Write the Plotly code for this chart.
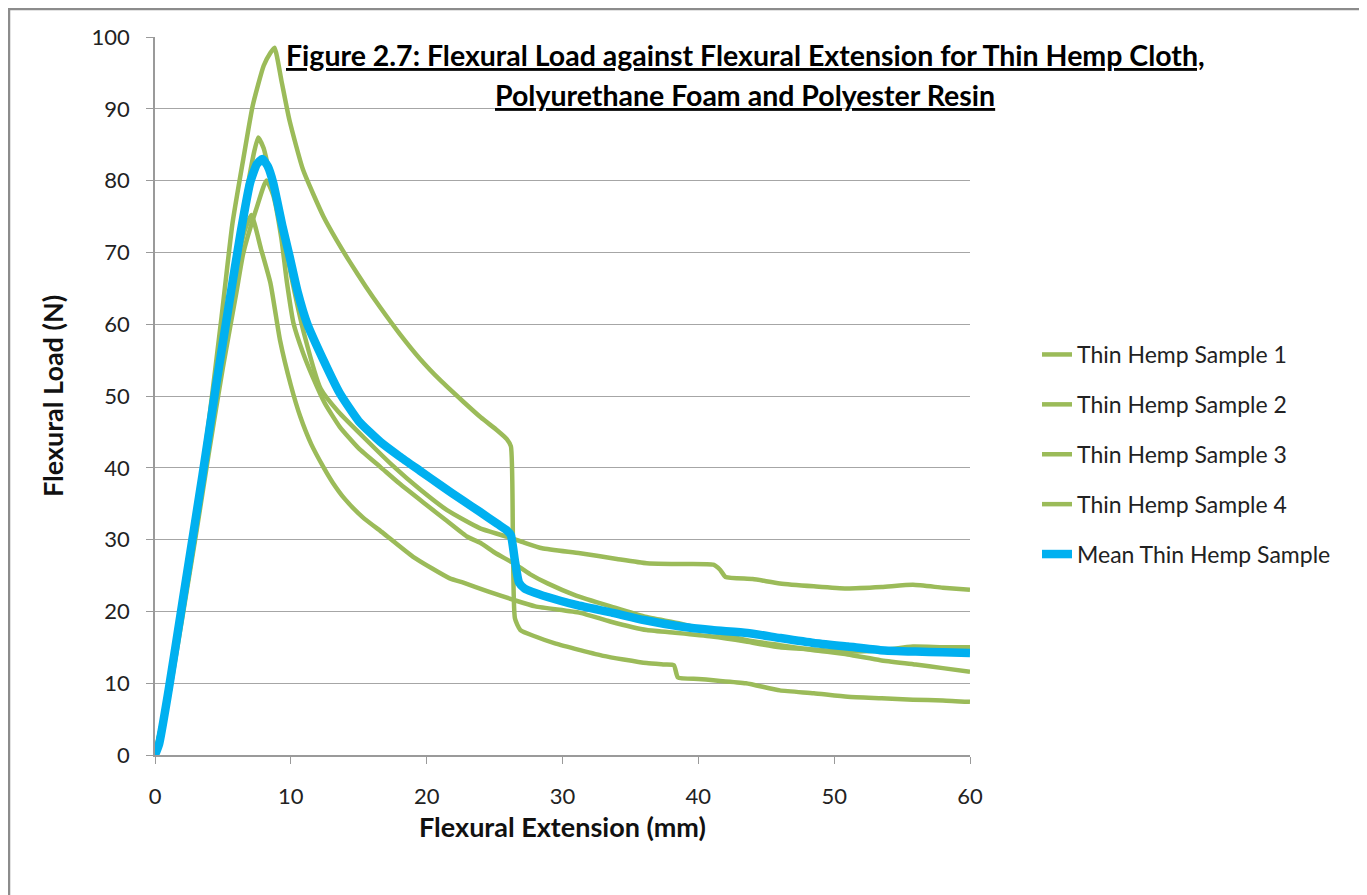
import plotly.graph_objects as go

# ---- data ----
s1_x = [0, 1, 2, 3, 4, 4.9, 5.7, 6.5, 7.2, 8.0, 8.5, 8.8, 9.3, 9.9, 10.9, 12.4, 13.4, 14.4, 15.5,
        16.6, 18, 19.5, 21, 22.7, 24, 25.2, 25.9, 26.2, 26.35, 26.5, 26.9, 28, 29.5, 31.3, 33, 34.5,
        36.2, 37.5, 38.2, 38.5, 40, 41.1, 43.5, 46, 48.5, 51, 53.5, 55.8, 58, 60]
s1_y = [0, 9, 21, 33, 47, 61, 74, 83, 90.5, 96, 97.8, 98.5, 94, 88.4, 81.5, 75, 71.6, 68.5, 65.3,
        62.3, 58.7, 55.2, 52.2, 49.2, 47, 45.2, 44, 43, 30, 19, 17.4, 16.5, 15.5, 14.6, 13.8, 13.3,
        12.8, 12.6, 12.5, 10.8, 10.6, 10.4, 10, 9, 8.6, 8.1, 7.9, 7.7, 7.6, 7.4]

s2_x = [0, 1, 2, 3, 4, 5, 6, 6.8, 7.3, 7.6, 8.0, 8.5, 9.3, 10, 11, 12.2, 13.5, 15.6, 17.5, 19.5,
        21.5, 23.9, 25.9, 27, 28.5, 31.3, 34, 36.2, 38.5, 41.1, 41.6, 42, 44, 46, 48.5, 50.9, 53.5,
        55.8, 58, 60]
s2_y = [0, 8.5, 19.5, 31, 43.5, 56, 70, 79, 84, 86, 84.5, 80.5, 74, 67, 58.5, 51, 47.8, 43.8, 40.3,
        37, 34.1, 31.6, 30.4, 29.7, 28.8, 28.1, 27.3, 26.7, 26.6, 26.5, 25.8, 24.8, 24.5, 23.9, 23.5,
        23.2, 23.4, 23.7, 23.3, 23]

s3_x = [0, 1, 2, 3, 4, 5, 6, 6.5, 7.5, 8.2, 8.7, 9.3, 9.7, 10.2, 10.9, 11.6, 12.5, 13.6, 15, 16.6,
        18, 19.8, 21.5, 23, 24, 25, 26.4, 27.6, 28.9, 31, 33.7, 36, 38.7, 41, 43.6, 46, 48.5, 51,
        53.4, 56, 58, 60]
s3_y = [0, 8, 19, 30.5, 42.5, 54, 64.5, 69.9, 76.3, 80, 78, 72, 66, 60.1, 56, 52.7, 49, 45.7, 42.7,
        40.1, 37.8, 35.1, 32.6, 30.4, 29.5, 28.2, 26.7, 25.2, 23.9, 22.2, 20.6, 19.3, 18.3, 17.2, 16,
        15.3, 14.6, 14, 13.2, 12.6, 12.1, 11.6]

s4_x = [0, 1, 2, 3, 4, 5, 6, 6.6, 7.1, 7.8, 8.5, 9.2, 10.0, 10.7, 11.5, 12.4, 13.1, 14, 15.3, 16.8,
        19, 21.7, 22.7, 24.5, 26.4, 28, 31.3, 33.5, 36.2, 38.5, 41, 43.5, 46, 48.5, 51, 53.5, 55.8,
        58, 60]
s4_y = [0, 9, 20, 32, 45, 57, 68, 73, 75.2, 70.5, 65.7, 57.8, 51.5, 47.1, 43.3, 40.1, 37.9, 35.6,
        33.1, 30.9, 27.6, 24.6, 24, 22.8, 21.6, 20.7, 19.8, 18.6, 17.4, 17, 16.5, 15.8, 15, 14.7,
        14.4, 14.6, 15.1, 15, 15]

mean_x = [0, 0.3, 1, 2, 3, 3.5, 4.5, 5.5, 6.3, 7.0, 7.5, 7.9, 8.3, 8.7, 9.4, 9.9, 10.5, 11.2, 12.4,
          13.6, 15, 16.6, 18, 19.5, 21, 22.7, 23.9, 25.2, 25.9, 26.2, 26.5, 26.8, 27.2, 28.9, 31,
          33.7, 36, 38.7, 41, 43.6, 46, 48.5, 51, 53.4, 56, 58, 60]
mean_y = [0, 1.5, 9, 21, 33, 39, 51.5, 63.4, 72.7, 79.7, 82.3, 83, 82, 79.7, 73.5, 69.5, 64.5,
          60.1, 55, 50.4, 46.5, 43.6, 41.6, 39.6, 37.6, 35.4, 33.9, 32.2, 31.3, 30.6, 27, 24, 23.2, 22,
          20.9, 19.8, 18.8, 17.9, 17.4, 17, 16.3, 15.6, 15.1, 14.6, 14.4, 14.3, 14.2]

series_names = ["Thin Hemp Sample 1", "Thin Hemp Sample 2", "Thin Hemp Sample 3",
                "Thin Hemp Sample 4", "Mean Thin Hemp Sample"]
x_ticks = [0, 10, 20, 30, 40, 50, 60]
y_ticks = [0, 10, 20, 30, 40, 50, 60, 70, 80, 90, 100]

title_line1 = "Figure 2.7: Flexural Load against Flexural Extension for Thin Hemp Cloth,"
title_line2 = "Polyurethane Foam and Polyester Resin"
x_title = "Flexural Extension (mm)"
y_title = "Flexural Load (N)"

# ---- figure ----
GREEN = "#9bbb59"
BLUE = "#00b0f0"
FONT = "Lato, 'Open Sans', sans-serif"

fig = go.Figure()
samples = [(s1_x, s1_y), (s2_x, s2_y), (s3_x, s3_y), (s4_x, s4_y)]
for i, (xs, ys) in enumerate(samples):
    fig.add_trace(go.Scatter(x=xs, y=ys, mode="lines", name=series_names[i],
                             legendgroup=f"g{i}",
                             line=dict(color=GREEN, width=4.5, shape="spline", smoothing=0.5)))
fig.add_trace(go.Scatter(x=mean_x, y=mean_y, mode="lines", name=series_names[4],
                         legendgroup="g4",
                         line=dict(color=BLUE, width=8.5, shape="spline", smoothing=0.5)))

# page body has an 8px margin, so the figure starts at screen (8, 8)
OFF = 8
W, H = 1367 - OFF, 895 - OFF
L, T = 155 - OFF, 37 - OFF
R = W - (970 - OFF)
B = H - (755 - OFF)
pw, ph = W - L - R, H - T - B

def sx(px):  # screen px -> paper x
    return (px - OFF - L) / pw

def sy(py):  # screen px -> paper y
    return (H - B - (py - OFF)) / ph

fig.update_layout(
    width=W, height=H,
    margin=dict(l=L, r=R, t=T, b=B, pad=0),
    paper_bgcolor="white", plot_bgcolor="white",
    font=dict(family=FONT, color="#222", size=22),
    showlegend=True,
    legend=dict(x=sx(1037), y=sy(333), xanchor="left", yanchor="top",
                font=dict(size=23, color="#222"), tracegroupgap=17,
                bgcolor="rgba(0,0,0,0)"),
    xaxis=dict(range=[0, 60], tickvals=x_ticks, showgrid=False, zeroline=False,
               showline=True, linecolor="#9a9a9a", linewidth=1.5,
               ticks="outside", ticklen=7, tickcolor="#9a9a9a",
               tickfont=dict(size=22, color="#222"), ticklabelstandoff=14,
               title=dict(text="<b>" + x_title + "</b>", font=dict(size=27, color="#111"),
                          standoff=10)),
    yaxis=dict(range=[0, 100], tickvals=y_ticks, showgrid=True, gridcolor="#a6a6a6", gridwidth=1.3,
               zeroline=False, showline=True, linecolor="#9a9a9a", linewidth=1.5,
               ticks="outside", ticklen=7, tickcolor="#9a9a9a",
               tickfont=dict(size=22, color="#222"), ticklabelstandoff=12,
               title=dict(text="<b>" + y_title + "</b>", font=dict(size=27, color="#111"),
                          standoff=20)),
    shapes=[dict(type="rect", xref="paper", yref="paper",
                 x0=sx(9), x1=sx(1364),
                 y0=sy(960), y1=sy(9),
                 line=dict(color="#8c8c8c", width=2.5), fillcolor="rgba(0,0,0,0)", layer="below")],
    annotations=[
        dict(text="<b><u>" + title_line1 + "</u></b>", xref="paper", yref="paper",
             x=sx(745), y=sy(55), xanchor="center", yanchor="middle",
             showarrow=False, font=dict(size=28.5, color="#000")),
        dict(text="<b><u>" + title_line2 + "</u></b>", xref="paper", yref="paper",
             x=sx(745), y=sy(95), xanchor="center", yanchor="middle",
             showarrow=False, font=dict(size=28.5, color="#000")),
    ],
)

fig.write_html("out.html")
